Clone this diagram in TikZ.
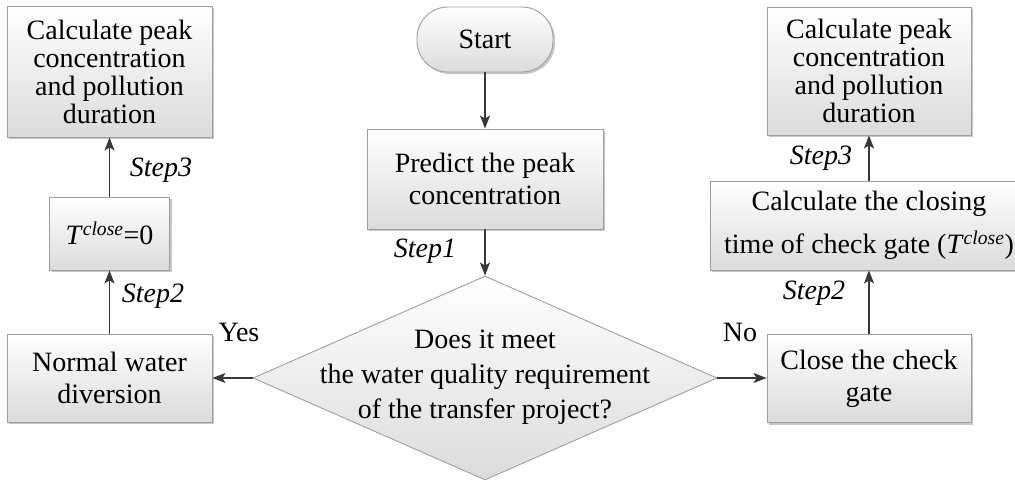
\documentclass[tikz,border=0pt]{standalone}
\usepackage{fontspec}
\setmainfont{Liberation Serif}
\usetikzlibrary{arrows.meta,shapes.geometric,shadows}
\begin{document}
\begin{tikzpicture}[x=1pt,y=-1pt,
  box/.style={rectangle, draw=black!38, line width=0.9pt, top color=white, bottom color=black!14,
    drop shadow={shadow xshift=2pt, shadow yshift=-2pt, opacity=0.22, fill=black},
    inner sep=0pt, align=center, font=\fontsize{28}{28}\selectfont},
  dia/.style={shape=diamond, draw=black!38, line width=0.9pt, top color=white, bottom color=black!14, inner sep=0pt},
  txt/.style={align=center, inner sep=0pt},
  lbl/.style={inner sep=0pt, font=\fontsize{28}{28}\selectfont\itshape},
  yn/.style={inner sep=0pt, font=\fontsize{28}{28}\selectfont},
  arr/.style={draw=black!78, line width=1.6pt, -{Stealth[length=13pt,width=10pt,inset=3pt]}}
]
\useasboundingbox (0,0) rectangle (1015,485);

% nodes
\node[box, minimum width=136pt, minimum height=65pt, rounded corners=31pt] (start) at (485,39.5) {Start};
\node[box, minimum width=236pt, minimum height=100pt, font=\fontsize{28}{32}\selectfont] (pred) at (485,179) {Predict the peak\\concentration};
\node[dia, minimum width=464pt, minimum height=204pt] (dec) at (485,378) {};
\node[txt, font=\fontsize{28}{35}\selectfont] (dectxt) at (485,377.5) {Does it meet\\the water quality requirement\\of the transfer project?};
\node[box, minimum width=205pt, minimum height=88pt, font=\fontsize{28}{32}\selectfont] (normal) at (109.5,378) {Normal water\\diversion};
\node[box, minimum width=120pt, minimum height=73pt] (tz) at (109.5,233.5) {\textit{T}\textsuperscript{\textit{close}}=0};
\node[box, minimum width=205pt, minimum height=131pt] (peakL) at (109.5,71.5) {Calculate peak\\concentration\\and pollution\\duration};
\node[box, minimum width=204pt, minimum height=88pt, font=\fontsize{28}{32}\selectfont] (close) at (869,378.5) {Close the check\\gate};
\node[box, minimum width=318pt, minimum height=89pt, font=\fontsize{28}{43}\selectfont] (calc) at (869,225.5) {Calculate the closing\\time of check gate (\textit{T}\textsuperscript{\textit{close}})};
\node[box, minimum width=204pt, minimum height=128pt] (peakR) at (869,71) {Calculate peak\\concentration\\and pollution\\duration};

% labels
\node[lbl] (s1) at (425,251) {Step1};
\node[lbl] (s2l) at (153,296) {Step2};
\node[lbl] (s3l) at (161,170) {Step3};
\node[lbl] (s2r) at (814,293) {Step2};
\node[lbl] (s3r) at (821,158) {Step3};
\node[yn] (yes) at (239,332) {Yes};
\node[yn] (no) at (740,332) {No};

% connectors
\draw[arr] (start.south) -- (pred.north);
\draw[arr] (pred.south) -- (dec.north);
\draw[arr] (dec.west) -- (normal.east);
\draw[arr] (dec.east) -- (dec.east -| close.west);
\draw[arr] (normal.north) -- (tz.south);
\draw[arr] (tz.north) -- (peakL.south);
\draw[arr] (close.north) -- (calc.south);
\draw[arr] (calc.north) -- (peakR.south);
\end{tikzpicture}
\end{document}
